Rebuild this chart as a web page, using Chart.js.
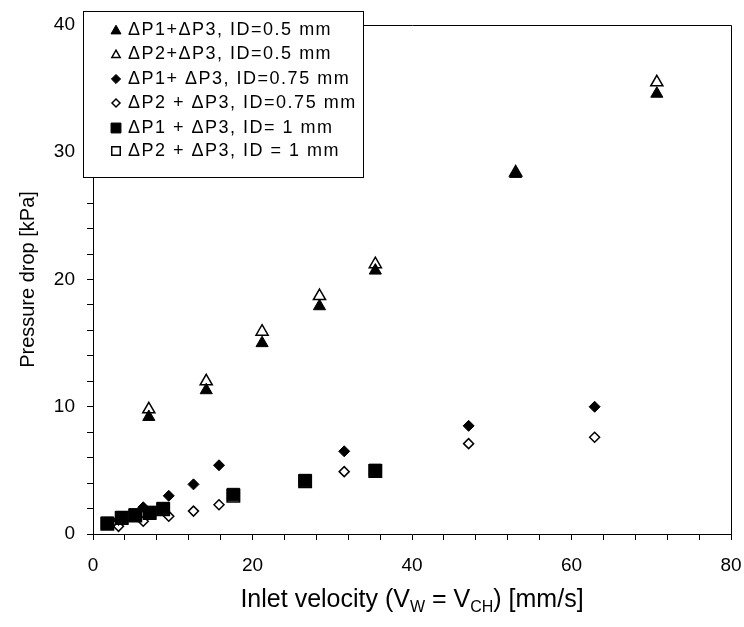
<!DOCTYPE html>
<html><head><meta charset="utf-8">
<script src="https://cdn.jsdelivr.net/npm/chart.js@4.4.0/dist/chart.umd.min.js"></script>
<style>html,body{margin:0;padding:0;background:#fff}#wrap{width:744px;height:627px}</style>
</head><body><div id="wrap"><canvas id="c" width="744" height="627"></canvas></div>
<script>
// ---- data ----
const seriesLabels = [
  'ΔP1+ΔP3, ID=0.5 mm',
  'ΔP2+ΔP3, ID=0.5 mm',
  'ΔP1+ ΔP3, ID=0.75 mm',
  'ΔP2 + ΔP3, ID=0.75 mm',
  'ΔP1 + ΔP3, ID= 1 mm',
  'ΔP2 + ΔP3, ID = 1 mm'
];
const vel05  = [7.0, 14.2, 21.2, 28.4, 35.4, 53.0, 70.7];
const p13_05 = [9.2, 11.3, 15.0, 17.9, 20.7, 28.3, 34.6];
const p23_05 = [9.8, 12.0, 15.9, 18.7, 21.2, 28.4, 35.5];
const vel075  = [3.2, 6.3, 9.5, 12.6, 15.8, 31.5, 47.1, 62.9];
const p13_075 = [1.1, 2.1, 3.0, 3.9, 5.4, 6.5, 8.5, 10.0];
const p23_075 = [0.6, 1.0, 1.4, 1.8, 2.3, 4.9, 7.1, 7.6];
const vel1  = [1.8, 3.6, 5.3, 7.1, 8.8, 17.6, 26.6, 35.4];
const p13_1 = [0.85, 1.3, 1.5, 1.7, 2.0, 3.1, 4.2, 5.0];
const p23_1 = [0.8, 1.25, 1.45, 1.65, 1.95, 3.0, 4.15, 4.95];
const xTickLabels = [0, 20, 40, 60, 80];
const yTickLabels = [0, 10, 20, 30, 40];

const FONT = '"Liberation Sans", Arial, sans-serif';
const toPts = (xs, ys) => xs.map((x, i) => ({x: x, y: ys[i]}));

function ds(label, xs, ys, style, filled, r, order) {
  return {
    label: label, data: toPts(xs, ys), showLine: false, order: order,
    pointStyle: style, pointRadius: r, pointHoverRadius: r,
    pointBackgroundColor: filled ? '#000' : '#fff',
    pointBorderColor: '#000', pointBorderWidth: filled ? 1 : 1.5
  };
}
const datasets = [
  ds(seriesLabels[0], vel05, p13_05, 'triangle', true, 7, 1),
  ds(seriesLabels[1], vel05, p23_05, 'triangle', false, 7, 1),
  ds(seriesLabels[2], vel075, p13_075, 'rectRot', true, 5.5, 1),
  ds(seriesLabels[3], vel075, p23_075, 'rectRot', false, 5, 1),
  ds(seriesLabels[4], vel1, p13_1, 'rect', true, 8.8, 0),
  ds(seriesLabels[5], vel1, p23_1, 'rect', false, 8.8, 0)
];
const legendR = [5.8, 4.8, 4.6, 4, 7, 6];
const legendRowY = [30, 54, 79, 103, 128, 151];

function fallbackPoint(ctx, style, r, x, y) {
  ctx.beginPath();
  if (style === 'triangle') {
    ctx.moveTo(x, y - r);
    ctx.lineTo(x + 0.866 * r, y + 0.5 * r);
    ctx.lineTo(x - 0.866 * r, y + 0.5 * r);
  } else if (style === 'rectRot') {
    ctx.moveTo(x - r, y); ctx.lineTo(x, y - r); ctx.lineTo(x + r, y); ctx.lineTo(x, y + r);
  } else {
    const s = r * Math.SQRT1_2; ctx.rect(x - s, y - s, 2 * s, 2 * s);
  }
  ctx.closePath(); ctx.fill(); ctx.stroke();
}

const framePlugin = {
  id: 'frame',
  afterDraw(chart) {
    const {ctx, chartArea: a} = chart;
    ctx.save();
    ctx.strokeStyle = '#000'; ctx.lineWidth = 1;
    ctx.beginPath();
    ctx.moveTo(Math.round(a.left) + 0.5, Math.round(a.top) + 0.5);
    ctx.lineTo(Math.round(a.right) + 0.5, Math.round(a.top) + 0.5);
    ctx.lineTo(Math.round(a.right) + 0.5, Math.round(a.bottom) + 0.5);
    ctx.stroke();

    // legend box
    ctx.fillStyle = '#fff';
    ctx.fillRect(83.5, 11.5, 280, 166);
    ctx.strokeRect(83.5, 11.5, 280, 166);
    chart.data.datasets.forEach((d, i) => {
      const y = legendRowY[i];
      ctx.fillStyle = d.pointBackgroundColor;
      ctx.strokeStyle = '#000';
      ctx.lineWidth = d.pointBorderWidth;
      fallbackPoint(ctx, d.pointStyle, legendR[i], 116, y + (d.pointStyle === 'triangle' ? 1 : 0));
      ctx.fillStyle = '#000';
      ctx.font = '18px ' + FONT;
      ctx.textBaseline = 'middle';
      ctx.textAlign = 'left';
      ctx.letterSpacing = '1.5px';
      ctx.fillText(d.label, 128, y);
      ctx.letterSpacing = '0px';
    });

    // x title with subscripts
    ctx.fillStyle = '#000';
    ctx.textBaseline = 'alphabetic';
    ctx.textAlign = 'left';
    const big = '25px ' + FONT, small = '16px ' + FONT;
    const parts = [
      ['Inlet velocity (V', big, 0], ['W', small, 5], [' = V', big, 0], ['CH', small, 5], [') [mm/s]', big, 0]
    ];
    let total = 0;
    parts.forEach(p => { ctx.font = p[1]; total += ctx.measureText(p[0]).width; });
    let x = (a.left + a.right) / 2 - total / 2;
    const base = 607;
    parts.forEach(p => { ctx.font = p[1]; ctx.fillText(p[0], x, base + p[2]); x += ctx.measureText(p[0]).width; });

    // y title
    ctx.save();
    ctx.translate(34, (a.top + a.bottom) / 2);
    ctx.rotate(-Math.PI / 2);
    ctx.font = '20px ' + FONT;
    ctx.textAlign = 'center';
    ctx.textBaseline = 'alphabetic';
    ctx.fillText('Pressure drop [kPa]', 0, 0);
    ctx.restore();
    ctx.restore();
  }
};

new Chart(document.getElementById('c'), {
  type: 'scatter',
  data: {datasets: datasets},
  options: {
    responsive: false, animation: false, devicePixelRatio: 1,
    layout: {padding: {top: 25, right: 13, left: 0, bottom: 0}},
    plugins: {legend: {display: false}, tooltip: {enabled: false}},
    scales: {
      x: {
        type: 'linear', min: 0, max: 80,
        afterFit: s => { s.height = 93; s.paddingRight = 13; s.paddingLeft = 0; },
        border: {color: '#000', width: 1},
        grid: {drawOnChartArea: false, tickLength: 6, color: '#000'},
        ticks: {stepSize: 4, autoSkip: false, maxRotation: 0, padding: 14, color: '#000',
          font: {family: FONT, size: 19},
          callback: v => xTickLabels.includes(v) ? String(v) : ''}
      },
      y: {
        type: 'linear', min: 0, max: 40,
        afterFit: s => { s.width = 93; s.paddingTop = 0; s.paddingBottom = 0; },
        border: {color: '#000', width: 1},
        grid: {drawOnChartArea: false, tickLength: 6, color: '#000'},
        ticks: {stepSize: 2, autoSkip: false, padding: 12, color: '#000',
          font: {family: FONT, size: 19},
          callback: v => yTickLabels.includes(v) ? String(v) : ''}
      }
    }
  },
  plugins: [framePlugin]
});
</script></body></html>
